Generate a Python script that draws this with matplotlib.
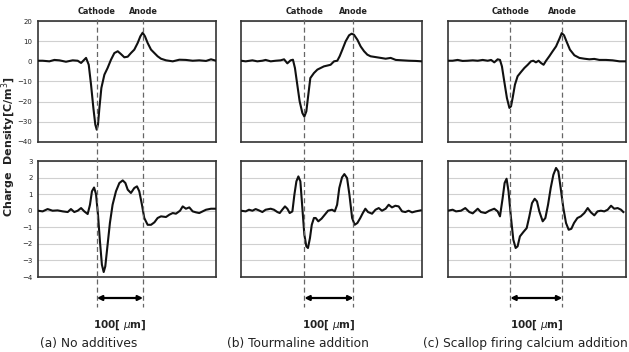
import matplotlib
matplotlib.use('Agg')
import matplotlib.pyplot as plt
import matplotlib.transforms as mtransforms

# position along the scan (% of the plotted width) and charge density values
# (a) No additives
a_top_x = [0, 2.6, 6.4, 9.2, 12, 15.7, 19.5, 22.3, 24.2, 27, 28.5, 29.8, 31.1, 32.2, 33, 33.7, 34.5,
           35.6, 37.3, 39.1, 41, 42.9, 44.8, 46.6, 48.5, 50.4, 52.2, 54.1, 56, 57.5, 58.8, 60.1, 61.6,
           63.5, 65.4, 67.2, 69.1, 71.9, 75.7, 79.4, 83.1, 86.9, 90.6, 94.4, 97.2, 100]
a_top_y = [0.3, 0.3, 0, 0.7, 0.5, -0.2, 0.5, 0.3, -0.8, 1.7, -1.7, -11.6, -23.1, -31.4, -33.9, -31.4, -23.1,
           -13.2, -6.6, -3.3, 0.8, 4.1, 5.0, 3.6, 2.0, 2.3, 4.1, 5.8, 9.1, 12.4, 14.2, 12.4, 9.1,
           5.8, 4.1, 2.5, 1.3, 0.5, 0, 0.8, 0.7, 0.3, 0.5, 0.2, 1.0, 0.3]

a_bot_x = [0, 2.6, 5.4, 8.2, 11, 13.9, 16.7, 18.5, 20.4, 22.3, 24.2, 26, 27.9, 29.2, 30.3, 31.5, 32.6,
           33.7, 34.8, 35.9, 36.9, 37.8, 39.1, 40.4, 41.9, 43.8, 45.7, 47.6, 49.1, 50.4, 52.2, 54.1, 55.6,
           56.9, 58.4, 59.7, 61.6, 63.5, 65.4, 67.2, 69.1, 71.9, 73.8, 75.7, 77.5, 79.8, 81.3, 83.1, 85,
           86.9, 88.8, 90.6, 92.5, 94.4, 97.2, 100]
a_bot_y = [0, -0.04, 0.1, 0, 0.02, -0.04, -0.08, 0.1, -0.08, 0, 0.16, -0.04, -0.2, 0.36, 1.17, 1.4, 1.0,
           -0.24, -1.85, -3.26, -3.7, -3.36, -2.05, -0.74, 0.36, 1.17, 1.67, 1.83, 1.67, 1.27, 1.07, 1.37, 1.47,
           1.17, 0.36, -0.44, -0.85, -0.85, -0.7, -0.44, -0.34, -0.38, -0.24, -0.14, -0.18, 0, 0.26, 0.12, 0.2,
           -0.04, -0.1, -0.14, -0.04, 0.06, 0.12, 0.12]

# (b) Tourmaline addition
b_top_x = [0, 2.6, 6.3, 9, 11.8, 13.6, 16.4, 19.2, 21.9, 23.8, 25.6, 27.4, 28.7, 29.8, 31.1, 32.4, 33.9,
           35, 36.1, 37.2, 38.3, 40.3, 42.2, 44, 45.8, 47.7, 49.5, 51.4, 53.2, 54.5, 56, 57.8, 59.7, 61.1,
           62.4, 64.3, 66.1, 68, 69.8, 71.6, 74.4, 77.2, 79.9, 82.7, 85.5, 89.1, 92.8, 96.5, 100]
b_top_y = [0.3, 0, 0.5, 0, 0.3, 0.7, 0, 0.3, 0.5, 1.0, -1.0, 0.5, 0.8, -3.3, -11.6, -19.8, -25.6,
           -27.4, -24.8, -16.5, -8.3, -5.8, -4.1, -3.3, -2.5, -2.1, -1.7, 0, 0.3, 2.5, 5.8, 9.9, 12.9, 13.7,
           13.2, 10.7, 7.4, 5.0, 3.3, 2.5, 2.1, 1.7, 1.3, 1.7, 0.7, 0.5, 0.3, 0.2, 0]

b_bot_x = [0, 2.6, 4.4, 6.3, 8.1, 9.9, 11.8, 13.6, 16.4, 18.2, 20.1, 21.4, 22.8, 24.3, 25.6, 26.9, 28.4,
           29.5, 30.6, 31.7, 32.8, 33.9, 35, 36.1, 37, 38.1, 39.1, 40.3, 41.3, 42.7, 44.5, 46.3, 48.1, 50.3,
           51.8, 53.1, 54.3, 55.8, 57.1, 58.6, 59.9, 61.4, 62.8, 64.3, 65.9, 67.3, 68.7, 70.2, 72.4, 74.3,
           76.1, 77.9, 79.9, 81.6, 83.4, 85.3, 87.1, 89, 90.8, 92.6, 94.5, 96.5, 99.3]
b_bot_y = [0, -0.04, 0.06, 0, 0.1, 0.02, -0.08, 0.06, 0.12, 0.06, -0.08, -0.14, 0.06, 0.26, 0.12, -0.14, -0.04,
           0.97, 1.77, 2.07, 1.77, 0.16, -1.45, -2.15, -2.25, -1.65, -0.85, -0.44, -0.44, -0.64, -0.48, -0.24, 0,
           0.06, -0.04, 0.36, 1.37, 2.01, 2.21, 1.97, 0.97, -0.44, -0.85, -0.74, -0.44, -0.14, 0.12, -0.08, -0.18,
           0.06, 0.16, 0, 0.12, 0.36, 0.2, 0.3, 0.26, -0.04, -0.08, 0, -0.1, -0.04, 0.02]

# (c) Scallop firing calcium addition
c_top_x = [0, 2.6, 5.4, 8.2, 11, 13.9, 16.7, 19.5, 22.3, 24.2, 26, 27.9, 29.2, 30.3, 31.6, 33.1, 34.5,
           35.4, 36.3, 37.6, 39.1, 41, 42.9, 44.8, 46.6, 47.9, 49.4, 50.9, 52.2, 53.7, 55.1, 56.9, 58.8,
           60.7, 62.6, 63.9, 65.2, 66.7, 68.5, 71, 73.8, 76.6, 79.4, 82.2, 85, 88.8, 92.5, 96.3, 100]
c_top_y = [0.3, 0.3, 0.7, 0.2, 0.3, 0.5, 0.3, 0.7, 0.3, 0.7, -0.5, 1.0, 0.7, -2.5, -9.9, -18.2, -23.1,
           -22.3, -18.2, -11.6, -7.4, -5.3, -3.3, -1.7, 0, 0.3, -0.5, 0.3, -0.8, -1.7, 0.3, 2.5, 5.0,
           7.4, 11.2, 14.0, 12.9, 9.6, 5.8, 3.0, 1.7, 1.3, 1.0, 1.2, 0.7, 0.7, 0.5, 0, 0]

c_bot_x = [0, 2.6, 4.5, 7.3, 9.7, 12, 13.9, 16.7, 18.5, 21, 23.2, 26, 27.9, 29.2, 30.7, 31.8, 32.9,
           34, 35.4, 36.7, 38, 39.1, 40.4, 42.3, 44.2, 45.7, 47.2, 48.7, 50, 51.3, 53.2, 54.7, 56.2,
           57.7, 59.2, 60.7, 62, 63.3, 64.8, 66.3, 67.8, 69.3, 70.8, 72.7, 74.6, 76.6, 78.5, 80.3, 82.2,
           84, 85.9, 87.8, 89.7, 91.6, 93.4, 95.3, 97.2, 98.5]
c_bot_y = [0, 0.06, -0.04, 0, 0.16, -0.08, -0.16, 0.12, -0.08, -0.14, 0, 0.12, -0.04, -0.34, 0.76, 1.67, 1.93,
           1.17, -0.44, -1.75, -2.25, -2.15, -1.55, -1.29, -1.05, -0.34, 0.46, 0.72, 0.56, -0.04, -0.64, -0.44, 0.36,
           1.37, 2.17, 2.58, 2.37, 1.37, 0.16, -0.74, -1.15, -1.09, -0.74, -0.44, -0.34, -0.14, 0.16, -0.1, -0.28,
           -0.04, 0, -0.04, 0.06, 0.3, 0.12, 0.16, 0.06, -0.08]

# cathode / anode positions (% of width) per panel
electrodes = [(33.1, 59.0), (35.0, 62.1), (35.0, 64.2)]
captions = ['(a) No additives', '(b) Tourmaline addition', '(c) Scallop firing calcium addition']
top_ticks = [20, 10, 0, -10, -20, -30, -40]
bot_ticks = [3, 2, 1, 0, -1, -2, -3, -4]

series = [(a_top_x, a_top_y, a_bot_x, a_bot_y),
          (b_top_x, b_top_y, b_bot_x, b_bot_y),
          (c_top_x, c_top_y, c_bot_x, c_bot_y)]

W, H = 629, 352
fig = plt.figure(figsize=(W / 100, H / 100), dpi=100)

lefts = [38, 241, 448]
widths = [178, 181, 178]
cap_x = [40, 227, 423]


def px_box(x0, y0, x1, y1):
    return [x0 / W, 1 - y1 / H, (x1 - x0) / W, (y1 - y0) / H]


for i, (tx, ty, bx, by) in enumerate(series):
    l, w = lefts[i], widths[i]
    ax_t = fig.add_axes(px_box(l, 21, l + w, 142))
    ax_b = fig.add_axes(px_box(l, 161, l + w, 277))
    for ax, xs, ys, ticks in ((ax_t, tx, ty, top_ticks), (ax_b, bx, by, bot_ticks)):
        ax.plot(xs, ys, color='#111111', lw=1.5, zorder=3)
        ax.set_xlim(0, 100)
        ax.set_ylim(ticks[-1], ticks[0])
        ax.set_yticks(ticks)
        ax.set_xticks([])
        ax.grid(axis='y', color='#d0d0d0', lw=0.8)
        ax.tick_params(axis='y', length=0, pad=4, labelsize=5, colors='#222222')
        if i > 0:
            ax.set_yticklabels([])
        for s in ax.spines.values():
            s.set_color('#333333')
            s.set_linewidth(1.2)

    cath, anod = electrodes[i]
    trans = mtransforms.blended_transform_factory(ax_t.transData, fig.transFigure)
    for xe, name in ((cath, 'Cathode'), (anod, 'Anode')):
        fig.add_artist(plt.Line2D([xe, xe], [1 - 19 / H, 1 - 307 / H], transform=trans,
                                  color='#666666', lw=0.9, ls=(0, (4, 2.5))))
        fig.text(xe, 1 - 12 / H, name, transform=trans, ha='center', va='center',
                 fontsize=6.5, fontweight='bold', color='#222222', fontstretch='condensed')

    ax_t.annotate('', xy=(anod, 1 - 298 / H), xytext=(cath, 1 - 298 / H),
                  xycoords=trans, textcoords=trans,
                  arrowprops=dict(arrowstyle='<|-|>', color='black', lw=1.6,
                                  mutation_scale=7, shrinkA=0, shrinkB=0))
    fig.text((cath + anod) / 2, 1 - 325 / H, '100[ $\\mu$m]', transform=trans,
             ha='center', va='center', fontsize=7.5, fontweight='bold', color='#222222')
    fig.text(cap_x[i] / W, 1 - 344 / H, captions[i], ha='left', va='center',
             fontsize=8.8, color='#222222')

fig.text(9 / W, 1 - 147 / H, 'Charge  Density[C/m$^3$]', rotation=90, ha='center', va='center',
         fontsize=8, fontweight='bold', color='#222222')

fig.savefig('out.png', dpi=100)
